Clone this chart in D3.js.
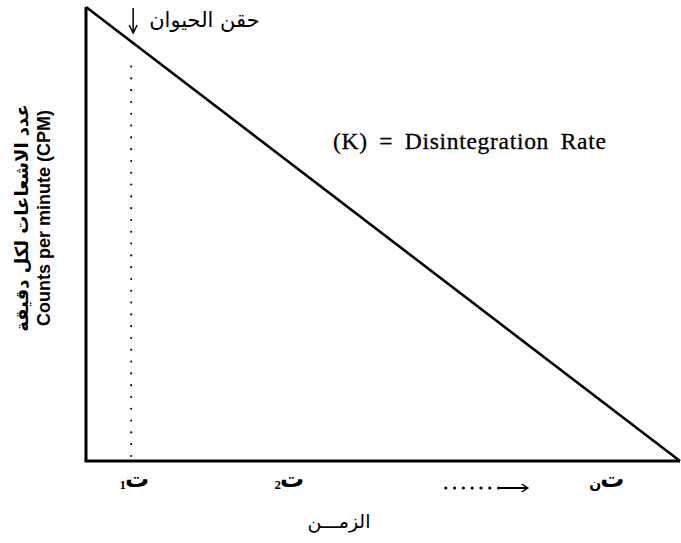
<!DOCTYPE html>
<html>
<head>
<meta charset="utf-8">
<script src="https://cdn.jsdelivr.net/npm/d3@7"></script>
<style>
  html, body { margin: 0; padding: 0; background: #fff; }
  svg { display: block; }
</style>
</head>
<body>
<svg id="chart" width="681" height="543"></svg>
<script>
// Count-rate decay after injection (arbitrary units)
const decayTimes = [0, 10];
const decayCounts = [100, 0];

// Injection moment and the height of its dotted guide
const injectionTime = [0.76];
const injectionGuideTop = [88.5];

// Time-axis tick labels: main glyph and its subscript (drawn to its left)
const tickTimes = [0.86, 3.47, 6.73, 8.86];
const tickMain = ["ت", "ت", "", "ت"];
const tickSub = ["1", "2", "", "ن"];

const xTitle = "الزمـــن";
const yTitleArabic = "عدد الاشعاعات لكل دقيقة";
const yTitleEnglish = "Counts per minute (CPM)";
const injectionLabel = "حقن الحيوان";
const rateLabel = "(K) = Disintegration Rate";

const svg = d3.select("#chart");
const arabicFont = "'DejaVu Sans', 'Noto Sans', sans-serif";
const serifFont = "'Liberation Serif', 'Times New Roman', serif";

const x = d3.scaleLinear().domain([0, 10]).range([86, 680]);
const y = d3.scaleLinear().domain([0, 100]).range([461, 7]);

const g = svg.append("g");

// Left axis and baseline
g.append("line")
  .attr("x1", x(0)).attr("x2", x(0))
  .attr("y1", y(100)).attr("y2", y(0))
  .attr("stroke", "#000").attr("stroke-width", 3);
g.append("line")
  .attr("x1", x(0) - 1.5).attr("x2", x(10))
  .attr("y1", y(0)).attr("y2", y(0))
  .attr("stroke", "#000").attr("stroke-width", 3);

// Decay line
const pts = decayTimes.map((t, i) => [t, decayCounts[i]]);
g.append("path")
  .datum(pts)
  .attr("d", d3.line().x(d => x(d[0])).y(d => y(d[1])))
  .attr("fill", "none").attr("stroke", "#000").attr("stroke-width", 2.6);

// Dotted injection guide
g.append("line")
  .attr("x1", x(injectionTime[0])).attr("x2", x(injectionTime[0]))
  .attr("y1", y(0) - 5).attr("y2", y(injectionGuideTop[0]))
  .attr("stroke", "#000").attr("stroke-width", 2)
  .attr("stroke-linecap", "round")
  .attr("stroke-dasharray", "0.1 11.7");

// Injection arrow
const ax = x(injectionTime[0]) + 2;
g.append("line")
  .attr("x1", ax).attr("x2", ax).attr("y1", 8).attr("y2", 32)
  .attr("stroke", "#000").attr("stroke-width", 1.5);
g.append("path")
  .attr("d", `M${ax - 4},25 L${ax},33 L${ax + 4},25`)
  .attr("fill", "none").attr("stroke", "#000").attr("stroke-width", 1.5);
g.append("text")
  .attr("x", ax + 16).attr("y", 27)
  .attr("font-family", arabicFont).attr("font-size", 21)
  .attr("direction", "rtl").attr("text-anchor", "end")
  .text(injectionLabel);

// Rate label
g.append("text")
  .attr("x", 333).attr("y", 149)
  .attr("font-family", serifFont)
  .attr("font-size", 23.5)
  .attr("letter-spacing", 0.7)
  .attr("word-spacing", 5)
  .attr("stroke", "#000").attr("stroke-width", 0.3)
  .text(rateLabel);

// Time ticks
const tickData = tickTimes.map((t, i) => ({ t, main: tickMain[i], sub: tickSub[i] }));
const ticks = g.selectAll("g.tick")
  .data(tickData)
  .join("g").attr("class", "tick")
  .attr("transform", d => `translate(${x(d.t)},487)`);

const labelled = ticks.filter(d => d.main);
labelled.append("text")
  .attr("text-anchor", "middle")
  .attr("font-family", arabicFont)
  .attr("font-size", 24)
  .attr("font-weight", "bold")
  .text(d => d.main);
labelled.append("text")
  .attr("x", -11)
  .attr("y", 2)
  .attr("text-anchor", "end")
  .attr("font-family", d => /\d/.test(d.sub) ? serifFont : arabicFont)
  .attr("font-size", d => /\d/.test(d.sub) ? 13 : 14)
  .attr("font-weight", "bold")
  .text(d => d.sub);

// The open-ended tick: a row of dots leading into an arrow
const cont = ticks.filter(d => !d.main);
cont.selectAll("circle")
  .data(d3.range(7))
  .join("circle")
  .attr("cx", i => -40 + i * 8.8)
  .attr("cy", 1)
  .attr("r", 1.6)
  .attr("fill", "#000");
cont.append("line")
  .attr("x1", 14).attr("x2", 41).attr("y1", 1).attr("y2", 1)
  .attr("stroke", "#000").attr("stroke-width", 2);
cont.append("path")
  .attr("d", "M36,-3 L42,1 L36,5")
  .attr("fill", "none").attr("stroke", "#000").attr("stroke-width", 1.5);

// Axis titles
g.append("text")
  .attr("x", 339).attr("y", 528)
  .attr("text-anchor", "middle")
  .attr("font-family", arabicFont).attr("font-size", 19)
  .attr("direction", "rtl")
  .text(xTitle);

g.append("text")
  .attr("transform", "translate(28,218) rotate(-90)")
  .attr("text-anchor", "middle")
  .attr("font-family", arabicFont).attr("font-size", 18).attr("font-weight", "bold")
  .attr("direction", "rtl")
  .text(yTitleArabic);
g.append("text")
  .attr("transform", "translate(50,218) rotate(-90)")
  .attr("text-anchor", "middle")
  .attr("font-family", "'Liberation Sans', Arial, sans-serif")
  .attr("font-size", 18).attr("font-weight", "bold")
  .text(yTitleEnglish);
</script>
</body>
</html>
